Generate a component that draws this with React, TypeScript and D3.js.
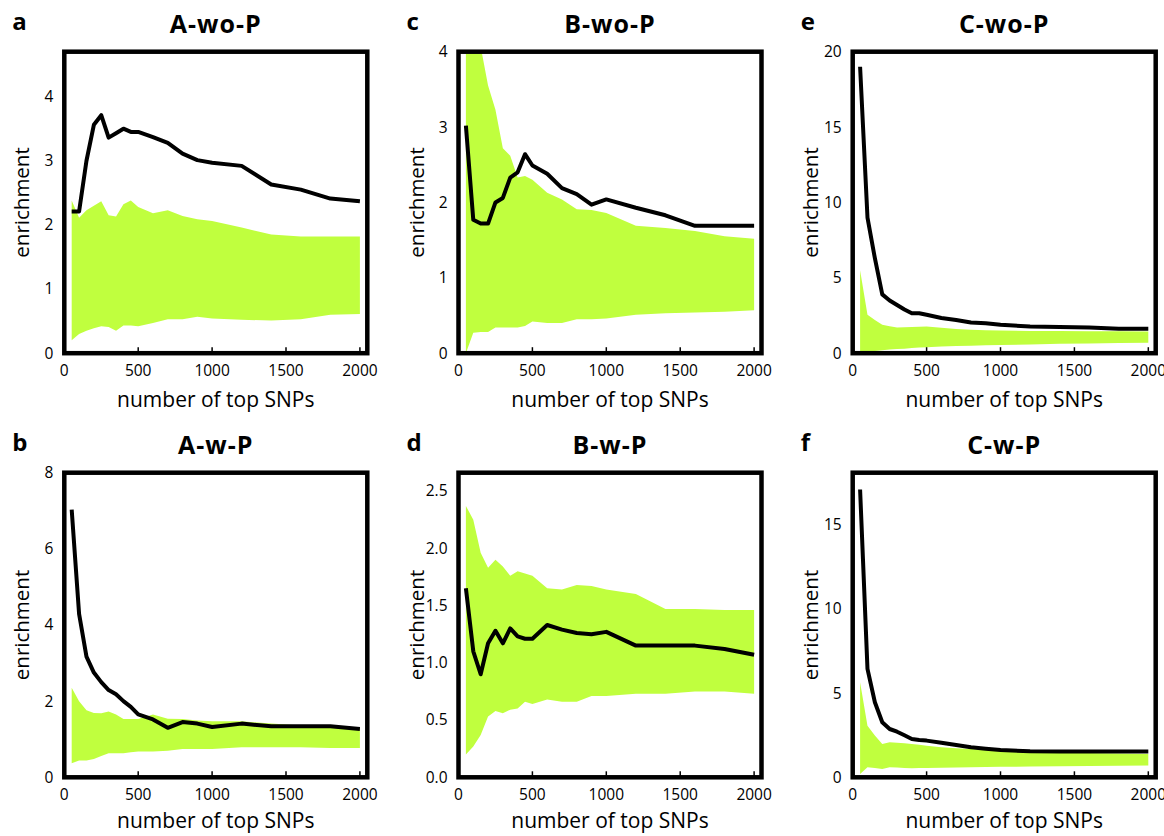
import React from "react";
import * as d3 from "d3";

const xs = [50, 100, 150, 200, 250, 300, 350, 400, 450, 500, 600, 700, 800, 900, 1000, 1200, 1400, 1600, 1800, 2000];
const xTicks = [0, 500, 1000, 1500, 2000];

const aLine = [2.21, 2.21, 3.0, 3.56, 3.71, 3.36, 3.43, 3.5, 3.45, 3.45, 3.37, 3.28, 3.11, 3.01, 2.97, 2.92, 2.63, 2.55, 2.41, 2.37];
const aUpper = [2.38, 2.11, 2.23, 2.3, 2.37, 2.15, 2.13, 2.32, 2.38, 2.28, 2.18, 2.23, 2.14, 2.09, 2.06, 1.96, 1.85, 1.82, 1.82, 1.82];
const aLower = [0.2, 0.3, 0.35, 0.39, 0.42, 0.41, 0.35, 0.43, 0.43, 0.42, 0.47, 0.53, 0.53, 0.57, 0.54, 0.52, 0.51, 0.53, 0.6, 0.61];

const bLine = [7.03, 4.29, 3.17, 2.75, 2.5, 2.29, 2.18, 2.0, 1.85, 1.65, 1.52, 1.3, 1.45, 1.41, 1.32, 1.41, 1.34, 1.34, 1.34, 1.27];
const bUpper = [2.35, 2.0, 1.76, 1.69, 1.68, 1.73, 1.65, 1.53, 1.53, 1.53, 1.65, 1.54, 1.53, 1.49, 1.47, 1.47, 1.41, 1.36, 1.35, 1.3];
const bLower = [0.37, 0.44, 0.44, 0.48, 0.56, 0.63, 0.63, 0.63, 0.66, 0.68, 0.68, 0.7, 0.74, 0.74, 0.74, 0.79, 0.79, 0.79, 0.77, 0.77];

const cLine = [3.02, 1.77, 1.72, 1.72, 2.0, 2.06, 2.33, 2.4, 2.64, 2.49, 2.38, 2.19, 2.11, 1.97, 2.04, 1.93, 1.83, 1.69, 1.69, 1.69];
const cUpper = [5.6, 4.6, 4.07, 3.55, 3.23, 2.72, 2.62, 2.33, 2.35, 2.3, 2.13, 2.04, 1.91, 1.9, 1.86, 1.69, 1.66, 1.62, 1.55, 1.52];
const cLower = [0.0, 0.27, 0.28, 0.28, 0.34, 0.34, 0.34, 0.34, 0.36, 0.42, 0.4, 0.4, 0.45, 0.45, 0.46, 0.51, 0.53, 0.54, 0.55, 0.57];

const dLine = [1.65, 1.1, 0.9, 1.17, 1.28, 1.17, 1.3, 1.23, 1.21, 1.21, 1.33, 1.29, 1.26, 1.25, 1.27, 1.15, 1.15, 1.15, 1.12, 1.07];
const dUpper = [2.37, 2.25, 1.96, 1.83, 1.9, 1.84, 1.76, 1.8, 1.78, 1.76, 1.65, 1.64, 1.68, 1.67, 1.64, 1.6, 1.47, 1.47, 1.46, 1.46];
const dLower = [0.2, 0.27, 0.37, 0.53, 0.58, 0.56, 0.59, 0.6, 0.66, 0.64, 0.68, 0.66, 0.66, 0.71, 0.71, 0.73, 0.73, 0.75, 0.75, 0.73];

const eLine = [19.0, 9.0, 6.3, 3.9, 3.5, 3.2, 2.9, 2.65, 2.65, 2.55, 2.33, 2.2, 2.04, 1.98, 1.88, 1.77, 1.73, 1.7, 1.62, 1.62];
const eUpper = [5.5, 2.55, 2.2, 1.88, 1.78, 1.7, 1.72, 1.74, 1.76, 1.77, 1.68, 1.6, 1.55, 1.52, 1.5, 1.48, 1.47, 1.46, 1.45, 1.44];
const eLower = [0.0, 0.1, 0.15, 0.2, 0.25, 0.28, 0.3, 0.35, 0.38, 0.4, 0.44, 0.47, 0.5, 0.52, 0.55, 0.58, 0.62, 0.65, 0.68, 0.7];

const fLine = [17.1, 6.44, 4.46, 3.27, 2.87, 2.71, 2.5, 2.28, 2.22, 2.18, 2.05, 1.92, 1.78, 1.7, 1.62, 1.55, 1.53, 1.53, 1.53, 1.53];
const fUpper = [5.65, 3.07, 2.48, 1.98, 2.08, 2.05, 2.02, 1.98, 1.93, 1.88, 1.78, 1.72, 1.68, 1.63, 1.58, 1.53, 1.49, 1.45, 1.42, 1.39];
const fLower = [0.2, 0.6, 0.55, 0.5, 0.6, 0.58, 0.56, 0.54, 0.55, 0.56, 0.57, 0.58, 0.6, 0.61, 0.62, 0.64, 0.66, 0.67, 0.69, 0.7];

const panelLetters = ["a", "b", "c", "d", "e", "f"];
const panelTitles = ["A-wo-P", "A-w-P", "B-wo-P", "B-w-P", "C-wo-P", "C-w-P"];
const yMaxes = [4.7, 8, 4, 2.66, 20, 18.1];
const yTickSets = [
  [0, 1, 2, 3, 4],
  [0, 2, 4, 6, 8],
  [0, 1, 2, 3, 4],
  [0, 0.5, 1, 1.5, 2, 2.5],
  [0, 5, 10, 15, 20],
  [0, 5, 10, 15],
];
const lines = [aLine, bLine, cLine, dLine, eLine, fLine];
const uppers = [aUpper, bUpper, cUpper, dUpper, eUpper, fUpper];
const lowers = [aLower, bLower, cLower, dLower, eLower, fLower];

const FONT = "'Open Sans', sans-serif";
const GREEN = "#C0FF3E";

const colLefts = [64.3, 458.5, 852.7];
const rowTops = [51.7, 472.7];
const rowBottoms = [353.2, 777.3];
const xLabelOffsets = [54, 51];
const frameW = 303;

function Panel({ idx }: { idx: number }) {
  const col = Math.floor(idx / 2);
  const row = idx % 2;
  const left = colLefts[col];
  const right = left + frameW;
  const top = rowTops[row];
  const bottom = rowBottoms[row];
  const x = d3.scaleLinear().domain([0, 2050]).range([left, right]);
  const y = d3.scaleLinear().domain([0, yMaxes[idx]]).range([bottom, top]);
  const data = xs.map((v, i) => ({ x: v, m: lines[idx][i], u: uppers[idx][i], l: lowers[idx][i] }));
  const area = d3
    .area<any>()
    .x((d) => x(d.x))
    .y0((d) => y(d.l))
    .y1((d) => y(d.u));
  const line = d3
    .line<any>()
    .x((d) => x(d.x))
    .y((d) => y(d.m));
  const clipId = `clip-${idx}`;
  const fmt = idx === 3 ? d3.format(".1f") : d3.format("d");
  const cx = (left + right) / 2;
  return (
    <g>
      <defs>
        <clipPath id={clipId}>
          <rect x={left} y={top} width={right - left} height={bottom - top} />
        </clipPath>
      </defs>
      <g clipPath={`url(#${clipId})`}>
        <path d={area(data) || ""} fill={GREEN} />
        <path d={line(data) || ""} fill="none" stroke="#000" strokeWidth={4} strokeLinejoin="round" />
      </g>
      {xTicks.slice(1).map((t) => (
        <line key={t} x1={x(t)} x2={x(t)} y1={bottom} y2={bottom - 6} stroke="#000" strokeWidth={1.5} />
      ))}
      <rect x={left} y={top} width={right - left} height={bottom - top} fill="none" stroke="#000" strokeWidth={4.5} />
      {xTicks.map((t) => (
        <text key={t} x={x(t)} y={bottom + 23} textAnchor="middle" fontFamily={FONT} fontSize={15.5} fill="#000">
          {t}
        </text>
      ))}
      {yTickSets[idx].map((t) => (
        <text key={t} x={left - 11} y={y(t)} dy="0.35em" textAnchor="end" fontFamily={FONT} fontSize={15.5} fill="#000">
          {fmt(t)}
        </text>
      ))}
      <text x={cx} y={bottom + xLabelOffsets[row]} textAnchor="middle" fontFamily={FONT} fontSize={21} fill="#000">
        number of top SNPs
      </text>
      <text
        transform={`translate(${left - 35},${(top + bottom) / 2}) rotate(-90)`}
        textAnchor="middle"
        fontFamily={FONT}
        fontSize={20.5}
        fill="#000"
      >
        enrichment
      </text>
      <text
        x={cx}
        y={top - 19}
        textAnchor="middle"
        fontFamily={FONT}
        fontWeight="bold"
        fontSize={25}
        letterSpacing={1}
        fill="#000"
      >
        {panelTitles[idx]}
      </text>
      <text x={left - 52} y={top - 22} fontFamily={FONT} fontWeight="bold" fontSize={24} fill="#000">
        {panelLetters[idx]}
      </text>
    </g>
  );
}

export default function App() {
  return (
    <svg
      width={1164}
      height={836}
      style={{ position: "absolute", left: 0, top: 0, background: "#fff" }}
    >
      <rect x={0} y={0} width={1164} height={836} fill="#fff" />
      {[0, 1, 2, 3, 4, 5].map((i) => (
        <Panel key={i} idx={i} />
      ))}
    </svg>
  );
}
